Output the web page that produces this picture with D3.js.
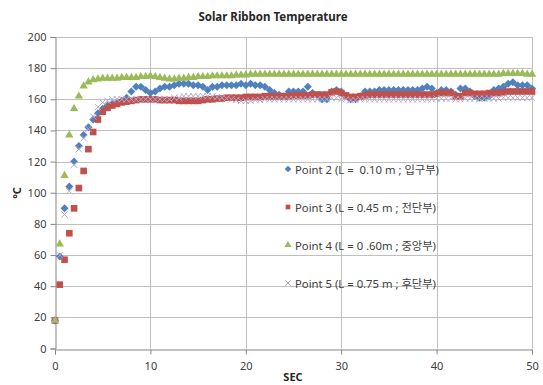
<!DOCTYPE html>
<html>
<head>
<meta charset="utf-8">
<script src="https://cdn.jsdelivr.net/npm/d3@7"></script>
<style>
  body { margin: 0; background: #fff; }
  text { font-family: "Noto Sans", "Noto Sans CJK KR", sans-serif; }
</style>
</head>
<body>
<div id="chart"></div>
<script>
// sampling times (sec)
const sec = [0,0.5,1,1.5,2,2.5,3,3.5,4,4.5,5,5.5,6,6.5,7,7.5,8,8.5,9,9.5,
  10,10.5,11,11.5,12,12.5,13,13.5,14,14.5,15,15.5,16,16.5,17,17.5,18,18.5,19,19.5,
  20,20.5,21,21.5,22,22.5,23,23.5,24,24.5,25,25.5,26,26.5,27,27.5,28,28.5,29,29.5,
  30,30.5,31,31.5,32,32.5,33,33.5,34,34.5,35,35.5,36,36.5,37,37.5,38,38.5,39,39.5,
  40,40.5,41,41.5,42,42.5,43,43.5,44,44.5,45,45.5,46,46.5,47,47.5,48,48.5,49,49.5,50];

// Point 2 (L = 0.10 m)
const point2 = [18,59,90,104,120,130,137,142,147,151,154,156,157,158,159,161,165,168,168,166,
  164,165,167,168,168,169,170,170,170,169,169,168,166,168,168,169,169,169,169,170,
  169,170,169,169,168,166,164,163,162,165,165,165,165,168,164,163,160,160,165,166,
  165,162,160,160,162,165,165,165,166,166,166,166,166,166,166,166,166,167,168,167,
  164,166,166,165,163,167,167,165,162,161,161,162,166,167,168,170,171,169,169,169,167];

// Point 3 (L = 0.45 m)
const point3 = [18,41,57,74,90,103,114,128,139,147,152,154.5,156,157,158,158.5,159,159.5,160,160,
  160,160,159.5,159.5,159.5,159.5,159,159,159,159,159,159.5,160,160,160.5,160.5,161,161,161,161,
  161.5,161.5,161.5,161.5,162,162,162,162,162,162,162.5,162.5,162.5,162.5,163,163,163,163,164.5,165,
  164,162.5,161.5,161.5,162,162.5,163,163,163,163,163,163,163,163,163,163,163,163,163,163,
  163.5,164,164,164,162,162,164,164,163.5,163.5,163.5,164,164,164,164.5,165,165,165,165,165,165];

// Point 4 (L = 0.60 m)
const point4 = [18,67,111,137,154,162,168.5,171,172.5,173,173.5,173.5,173.5,173.5,174,174,174,174,174.5,174.5,
  175,174.5,174,173.5,173,173,173.5,173.5,174,174,174.5,174.5,174.5,175,175,175,175,175,175.5,175.5,
  175.5,176,176,176,176,176,176,176,176,176,176,176,176,176,176,176,176,176,176,176,
  176,176,176,176,176,176,176,176,176,176,176,176,176,176,176,176,176,176,176,176,
  176,176,176,176,176,176,176,176,176,176,176,176,176,176,176.5,176.5,176.5,176.5,176.5,176,176];

// Point 5 (L = 0.75 m)
const point5 = [18,60,86,101,118,128,135,141,149,155,158,159,160,160,160,160,160,160,160,160,
  160,160,160,160,160,161,161,162,162,162,162,162,162,162,161.5,161,160.5,160,159.5,159,
  159,159,159.5,159.5,160,160,160,160,160,160,160,160,160,160,160,160,160,160,161,161,
  160,160,159.5,159.5,160,160,160,160,160,160,160,160,160,160,160,160,160,160,160,160,
  160.5,160.5,160.5,160.5,160,160,160.5,160.5,160.5,160.5,160.5,160.5,160.5,160.5,161,161,161,161,161,161,161];

const seriesNames = ["Point 2 (L =  0.10 m ; 입구부)", "Point 3 (L = 0.45 m ; 전단부)",
  "Point 4 (L = 0 .60m ; 중앙부)", "Point 5 (L = 0.75 m ; 후단부)"];
const seriesColors = ["#4f81bd", "#c0504d", "#9bbb59", "#b3a8cc"];
const xTicks = [0, 10, 20, 30, 40, 50];
const yTicks = [0, 20, 40, 60, 80, 100, 120, 140, 160, 180, 200];

const width = 543, height = 385;
const margin = {left: 55, right: 11, top: 37, bottom: 36.5};

const svg = d3.select("#chart").append("svg")
  .attr("width", width)
  .attr("height", height);

const x = d3.scaleLinear().domain([0, 50]).range([margin.left, width - margin.right]);
const y = d3.scaleLinear().domain([0, 200]).range([height - margin.bottom, margin.top]);

// grid
svg.append("g").selectAll("line").data(yTicks.filter(d => d > 0)).enter().append("line")
  .attr("x1", x(0)).attr("x2", x(50))
  .attr("y1", d => Math.round(y(d)) + 0.5).attr("y2", d => Math.round(y(d)) + 0.5)
  .attr("stroke", "#bfbfbf");
svg.append("g").selectAll("line").data(xTicks.filter(d => d > 0)).enter().append("line")
  .attr("y1", y(0)).attr("y2", y(200))
  .attr("x1", d => Math.round(x(d)) + 0.5).attr("x2", d => Math.round(x(d)) + 0.5)
  .attr("stroke", "#bfbfbf");

// axes
const xAxis = svg.append("g")
  .attr("transform", `translate(0,${Math.round(y(0)) + 0.5})`)
  .call(d3.axisBottom(x).tickValues(xTicks).tickSize(5).tickPadding(8));
const yAxis = svg.append("g")
  .attr("transform", `translate(${Math.round(x(0)) + 0.5},0)`)
  .call(d3.axisLeft(y).tickValues(yTicks).tickSize(5).tickPadding(4));
[xAxis, yAxis].forEach(a => {
  a.select(".domain").attr("stroke", "#868686");
  a.selectAll(".tick line").attr("stroke", "#868686");
  a.selectAll(".tick text").attr("fill", "#404040")
    .style("font-family", "'Noto Sans', sans-serif").style("font-size", "11px");
});

// markers
const xMark = {
  draw(ctx, size) {
    const r = Math.sqrt(size) / 2;
    ctx.moveTo(-r, -r); ctx.lineTo(r, r);
    ctx.moveTo(r, -r); ctx.lineTo(-r, r);
  }
};
const markerPaths = [
  d3.symbol().type(d3.symbolSquare).size(32)(),
  d3.symbol().type(d3.symbolSquare).size(44)(),
  d3.symbol().type(d3.symbolTriangle).size(30)(),
  d3.symbol().type(xMark).size(40)()
];
const markerRot = [45, 0, 0, 0];

const allSeries = [point2, point3, point4, point5];
allSeries.forEach((vals, i) => {
  const pts = vals.map((v, k) => [x(sec[k]), y(v)]);
  const g = svg.append("g");
  const m = g.selectAll("path").data(pts).enter().append("path")
    .attr("d", markerPaths[i])
    .attr("transform", d => `translate(${d[0]},${d[1]}) rotate(${markerRot[i]})`);
  if (i === 3) m.attr("fill", "none").attr("stroke", seriesColors[i]).attr("stroke-width", 1);
  else m.attr("fill", seriesColors[i]);
});

// legend (no box, gridlines show through)
const legend = svg.append("g").attr("transform", "translate(288,169)");
seriesNames.forEach((name, i) => {
  const row = legend.append("g").attr("transform", `translate(0,${i * 38})`);
  const mk = row.append("path")
    .attr("d", d3.symbol().type(i === 3 ? xMark : (i === 2 ? d3.symbolTriangle : d3.symbolSquare)).size(i === 3 ? 30 : 22)())
    .attr("transform", `rotate(${markerRot[i]})`);
  if (i === 3) mk.attr("fill", "none").attr("stroke", "#a6a6a6");
  else mk.attr("fill", seriesColors[i]);
  row.append("text")
    .attr("x", 7).attr("y", 4.5)
    .style("font-size", "11.3px")
    .style("white-space", "pre")
    .attr("fill", "#404040")
    .text(name);
});

// title and axis labels
svg.append("text")
  .attr("x", 273).attr("y", 21)
  .attr("text-anchor", "middle")
  .style("font-size", "11.5px").style("font-weight", "bold")
  .attr("fill", "#262626")
  .text("Solar Ribbon Temperature");

svg.append("text")
  .attr("x", 293).attr("y", 381)
  .attr("text-anchor", "middle")
  .style("font-size", "11px").style("font-weight", "bold")
  .attr("fill", "#262626")
  .text("SEC");

svg.append("text")
  .attr("transform", "translate(21,193) rotate(-90)")
  .attr("text-anchor", "middle")
  .style("font-size", "11px").style("font-weight", "bold")
  .attr("fill", "#262626")
  .text("°C");
</script>
</body>
</html>
